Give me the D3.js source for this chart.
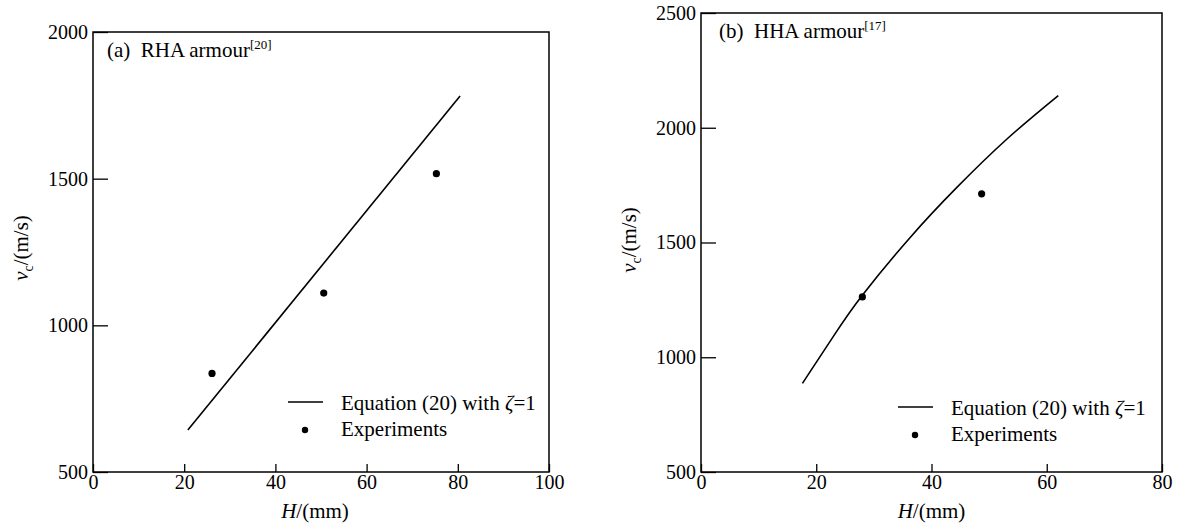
<!DOCTYPE html>
<html>
<head>
<meta charset="utf-8">
<script src="https://cdn.jsdelivr.net/npm/d3@7"></script>
<style>
  body { margin: 0; background: #fff; }
  text { white-space: pre; }
</style>
</head>
<body>
<div id="chart"></div>
<script>
// DATA
// panel (a) RHA armour
const rhaModelH = [20.8, 80.5];
const rhaModelV = [643, 1782];
const rhaExpH = [26.1, 50.6, 75.3];
const rhaExpV = [836, 1110, 1517];
const rhaXTicks = [0, 20, 40, 60, 80, 100];
const rhaYTicks = [500, 1000, 1500, 2000];

// panel (b) HHA armour
const hhaModelH = [17.6, 23.0, 28.0, 36.3, 44.4, 53.05, 62.0];
const hhaModelV = [886, 1092, 1270, 1522, 1740, 1950, 2140];
const hhaExpH = [28.0, 48.7];
const hhaExpV = [1263, 1712];
const hhaXTicks = [0, 20, 40, 60, 80];
const hhaYTicks = [500, 1000, 1500, 2000, 2500];

const legendLine = "Equation (20) with ";
const legendDots = "Experiments";

// CONSTANTS
const WIDTH = 1182;
const HEIGHT = 527;
const FONT = 20;
const LABEL_FONT = 21;
const SERIF = "Liberation Serif, DejaVu Serif, serif";

const svg = d3.select("#chart")
  .append("svg")
  .attr("width", WIDTH)
  .attr("height", HEIGHT)
  .style("font-family", SERIF);

const drawPanel = (cfg) => {
  const x = d3.scaleLinear().domain(cfg.xDomain).range([cfg.left, cfg.right]);
  const y = d3.scaleLinear().domain(cfg.yDomain).range([cfg.bottom, cfg.top]);

  const g = svg.append("g");

  // x axis, ticks inward
  const xAxis = g.append("g")
    .attr("transform", `translate(0,${cfg.bottom})`)
    .call(d3.axisBottom(x).tickValues(cfg.xTicks).tickFormat(d3.format("d"))
      .tickSize(-8).tickSizeOuter(0).tickPadding(3));
  xAxis.attr("font-family", null).attr("font-size", FONT);
  xAxis.select(".domain").remove();
  xAxis.selectAll("line").attr("stroke", "#000").attr("stroke-width", 1.3);
  xAxis.selectAll("text").attr("fill", "#000");

  // y axis, ticks inward
  const yAxis = g.append("g")
    .attr("transform", `translate(${cfg.left},0)`)
    .call(d3.axisLeft(y).tickValues(cfg.yTicks).tickFormat(d3.format("d"))
      .tickSize(-15).tickSizeOuter(0).tickPadding(5));
  yAxis.attr("font-family", null).attr("font-size", FONT);
  yAxis.select(".domain").remove();
  yAxis.selectAll("line").attr("stroke", "#000").attr("stroke-width", 1.3);
  yAxis.selectAll("text").attr("fill", "#000");

  // frame
  g.append("rect")
    .attr("x", cfg.left)
    .attr("y", cfg.top)
    .attr("width", cfg.right - cfg.left)
    .attr("height", cfg.bottom - cfg.top)
    .attr("fill", "none")
    .attr("stroke", "#000")
    .attr("stroke-width", 1.5);

  // model curve
  const pts = cfg.modelH.map((h, i) => [h, cfg.modelV[i]]);
  g.append("path")
    .datum(pts)
    .attr("d", d3.line().x(d => x(d[0])).y(d => y(d[1])).curve(d3.curveNatural))
    .attr("fill", "none")
    .attr("stroke", "#000")
    .attr("stroke-width", 1.6);

  // experiments
  g.selectAll("circle.exp")
    .data(cfg.expH.map((h, i) => [h, cfg.expV[i]]))
    .enter()
    .append("circle")
    .attr("class", "exp")
    .attr("cx", d => x(d[0]))
    .attr("cy", d => y(d[1]))
    .attr("r", 3.6)
    .attr("fill", "#000");

  // panel title
  const title = g.append("text")
    .attr("x", cfg.titleX)
    .attr("y", cfg.titleY)
    .attr("font-size", LABEL_FONT);
  title.append("tspan").text(cfg.title);
  title.append("tspan")
    .attr("font-size", 13)
    .attr("dy", -8)
    .text(cfg.titleRef);

  // legend
  const lg = g.append("g").attr("transform", `translate(${cfg.legendX},${cfg.legendY})`);
  lg.append("line")
    .attr("x1", 0).attr("x2", 35)
    .attr("y1", 0).attr("y2", 0)
    .attr("stroke", "#000")
    .attr("stroke-width", 1.3);
  const t1 = lg.append("text")
    .attr("x", 53)
    .attr("y", 8)
    .attr("font-size", LABEL_FONT);
  t1.append("tspan").text(legendLine);
  t1.append("tspan").attr("font-style", "italic").text("ζ");
  t1.append("tspan").text("=1");
  lg.append("circle")
    .attr("cx", 17)
    .attr("cy", 28)
    .attr("r", 3.2)
    .attr("fill", "#000");
  lg.append("text")
    .attr("x", 53)
    .attr("y", 34)
    .attr("font-size", LABEL_FONT)
    .text(legendDots);

  // x label
  const xl = g.append("text")
    .attr("x", (cfg.left + cfg.right) / 2 + cfg.xLabelShift)
    .attr("y", 518)
    .attr("text-anchor", "middle")
    .attr("font-size", LABEL_FONT);
  xl.append("tspan").attr("font-style", "italic").text("H");
  xl.append("tspan").text("/(mm)");

  // y label
  const yl = g.append("text")
    .attr("transform", `translate(${cfg.yLabelX},${cfg.yLabelY}) rotate(-90)`)
    .attr("text-anchor", "middle")
    .attr("font-size", LABEL_FONT);
  yl.append("tspan").attr("font-style", "italic").text("v");
  yl.append("tspan").attr("font-size", 14).attr("dy", 5).text("c");
  yl.append("tspan").attr("dy", -5).text("/(m/s)");
};

drawPanel({
  left: 93, right: 549, top: 32, bottom: 472,
  xDomain: [0, 100], yDomain: [500, 2000],
  xTicks: rhaXTicks, yTicks: rhaYTicks,
  modelH: rhaModelH, modelV: rhaModelV,
  expH: rhaExpH, expV: rhaExpV,
  title: "(a)  RHA armour", titleRef: "[20]", titleX: 107, titleY: 57,
  legendX: 288, legendY: 402,
  xLabelShift: -6, yLabelX: 28, yLabelY: 248
});

drawPanel({
  left: 701, right: 1162, top: 13, bottom: 472,
  xDomain: [0, 80], yDomain: [500, 2500],
  xTicks: hhaXTicks, yTicks: hhaYTicks,
  modelH: hhaModelH, modelV: hhaModelV,
  expH: hhaExpH, expV: hhaExpV,
  title: "(b)  HHA armour", titleRef: "[17]", titleX: 719, titleY: 38,
  legendX: 898, legendY: 407,
  xLabelShift: 0, yLabelX: 636, yLabelY: 240
});
</script>
</body>
</html>
